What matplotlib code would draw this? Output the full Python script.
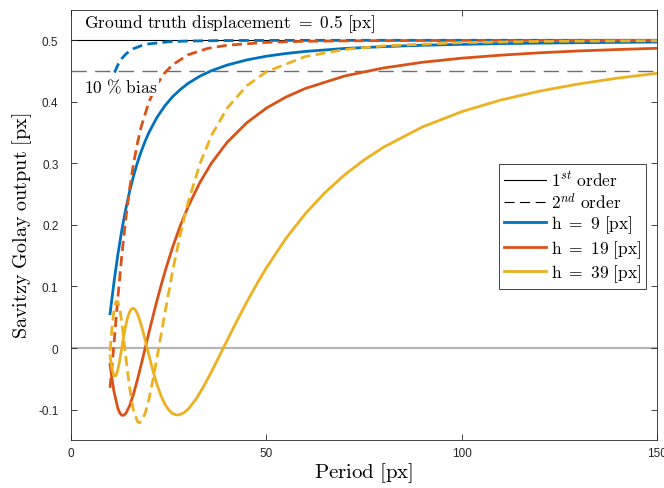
import matplotlib
matplotlib.use('Agg')
import matplotlib.pyplot as plt
from matplotlib.lines import Line2D

plt.rcParams['mathtext.fontset'] = 'cm'
plt.rcParams['font.family'] = ['Liberation Sans', 'DejaVu Sans']

# ---------------- data ----------------
# h = 9 [px], 1st order
period_h9_1 = [10, 11, 12, 13, 14, 15, 16, 17, 18, 19, 20, 22, 24, 26, 28, 30, 33, 36,
               40, 45, 50, 55, 60, 70, 80, 90, 100, 110, 120, 130, 140, 150]
out_h9_1 = [0.0556, 0.1066, 0.1518, 0.1911, 0.2250, 0.2542, 0.2793, 0.3011, 0.3199,
            0.3364, 0.3508, 0.3746, 0.3933, 0.4083, 0.4201, 0.4301, 0.4417, 0.4507,
            0.4598, 0.4681, 0.4741, 0.4785, 0.4819, 0.4867, 0.4897, 0.4919, 0.4934,
            0.4946, 0.4954, 0.4961, 0.4966, 0.4971]

# h = 19 [px], 1st order
period_h19_1 = [10, 10.5, 11, 12, 12.5, 13, 13.5, 14, 15, 16, 17, 18, 19, 20, 21, 22, 23,
                24, 26, 28, 30, 33, 36, 40, 45, 50, 55, 60, 70, 80, 90, 100, 110, 120,
                130, 140, 150]
out_h19_1 = [-0.0263, -0.0503, -0.0706, -0.0982, -0.1056, -0.1092, -0.1093, -0.1066,
             -0.0941, -0.0749, -0.0517, -0.0263, 0.0, 0.0263, 0.0520, 0.0768, 0.1004,
             0.1228, 0.1634, 0.1990, 0.2300, 0.2690, 0.3008, 0.3344, 0.3660, 0.3897,
             0.4077, 0.4217, 0.4419, 0.4550, 0.4643, 0.4709, 0.4758, 0.4797, 0.4827,
             0.4850, 0.4870]

# h = 39 [px], 1st order
period_h39_1 = [10, 10.5, 11, 11.5, 12, 12.5, 13, 13.5, 14, 14.5, 15, 15.5, 16, 16.5, 17,
                17.5, 18, 18.5, 19, 20, 21, 22, 23, 24, 25, 26, 27, 28, 29, 30, 32, 34,
                36, 38, 40, 42, 45, 48, 50, 55, 60, 65, 70, 75, 80, 90, 100, 110, 120,
                130, 140, 150]
out_h39_1 = [-0.0128, -0.0340, -0.0450, -0.0448, -0.0350, -0.0190, 0.0, 0.0190, 0.0359,
             0.0493, 0.0587, 0.0636, 0.0644, 0.0616, 0.0557, 0.0472, 0.0369, 0.0253,
             0.0128, -0.0128, -0.0373, -0.0590, -0.0769, -0.0908, -0.1005, -0.1064,
             -0.1087, -0.1080, -0.1048, -0.0993, -0.0830, -0.0619, -0.0381, -0.0128,
             0.0128, 0.0382, 0.0748, 0.1089, 0.1301, 0.1779, 0.2183, 0.2524, 0.2812,
             0.3055, 0.3263, 0.3593, 0.3840, 0.4029, 0.4175, 0.4291, 0.4386, 0.4463]

# h = 9 [px], 2nd order
period_h9_2 = [10, 11, 12, 13, 14, 15, 16, 18, 20, 25, 30, 40, 50, 60, 80, 100, 150]
out_h9_2 = [0.4238, 0.4455, 0.4600, 0.4702, 0.4773, 0.4825, 0.4863, 0.4912, 0.4942,
            0.4976, 0.4988, 0.4996, 0.4998, 0.4999, 0.5000, 0.5000, 0.5000]

# h = 19 [px], 2nd order
period_h19_2 = [10, 10.5, 11, 12, 13, 14, 15, 16, 17, 18, 20, 22, 24, 26, 30, 35, 40, 50,
                60, 80, 100, 150]
out_h19_2 = [-0.0647, -0.0301, 0.0070, 0.0814, 0.1498, 0.2088, 0.2584, 0.2993, 0.3327,
             0.3601, 0.4007, 0.4282, 0.4470, 0.4602, 0.4765, 0.4868, 0.4920, 0.4966,
             0.4984, 0.4995, 0.4998, 0.5000]

# h = 39 [px], 2nd order
period_h39_2 = [10, 10.5, 11, 11.5, 12, 12.5, 13, 13.5, 14, 15, 16, 17, 17.5, 18, 19, 20,
                21, 22, 23, 24, 26, 28, 30, 33, 36, 40, 45, 50, 60, 70, 80, 100, 120, 150]
out_h39_2 = [-0.0047, 0.0325, 0.0610, 0.0755, 0.0755, 0.0631, 0.0419, 0.0156, -0.0126,
             -0.0646, -0.1014, -0.1193, -0.1215, -0.1196, -0.1058, -0.0818, -0.0511,
             -0.0166, 0.0195, 0.0556, 0.1244, 0.1853, 0.2372, 0.2993, 0.3459, 0.3900,
             0.4261, 0.4488, 0.4736, 0.4850, 0.4910, 0.4962, 0.4982, 0.4993]

ground_truth = 0.5
bias_level = 0.45

x_ticks = [0, 50, 100, 150]
x_tick_labels = ['0', '50', '100', '150']
y_ticks = [-0.1, 0, 0.1, 0.2, 0.3, 0.4, 0.5]
y_tick_labels = ['-0.1', '0', '0.1', '0.2', '0.3', '0.4', '0.5']

# ---------------- figure ----------------
blue = '#0072BD'
red = '#D95319'
yellow = '#EDB120'
axc = '#262626'

fig = plt.figure(figsize=(6.64, 4.89), dpi=100)
ax = fig.add_axes([0.1069, 0.0975, 0.8825, 0.881])

ax.axhline(0, color='#b5b5b5', lw=1.6, zorder=1)
ax.axhline(ground_truth, color='k', lw=0.8, zorder=1)
ax.axhline(bias_level, color='#6e6e6e', lw=1.0, dashes=(11, 6), zorder=1)

lw = 2.0
dash = (3.6, 1.9)
ax.plot(period_h9_1, out_h9_1, color=blue, lw=lw, zorder=3)
ax.plot(period_h9_2, out_h9_2, color=blue, lw=lw, dashes=dash, zorder=3)
ax.plot(period_h19_1, out_h19_1, color=red, lw=lw, zorder=3)
ax.plot(period_h19_2, out_h19_2, color=red, lw=lw, dashes=dash, zorder=3)
ax.plot(period_h39_1, out_h39_1, color=yellow, lw=lw, zorder=3)
ax.plot(period_h39_2, out_h39_2, color=yellow, lw=lw, dashes=dash, zorder=3)

ax.text(3.3, 0.5275, r'$\mathrm{Ground\ truth\ displacement\ =\ 0.5\ [px]}$',
        fontsize=12.5, ha='left', va='center', zorder=6,
        bbox=dict(facecolor='white', edgecolor='none', pad=1.0))
ax.text(3.3, 0.426, r'$\mathrm{10\ \%\ bias}$',
        fontsize=12.5, ha='left', va='center', zorder=6,
        bbox=dict(facecolor='white', edgecolor='none', pad=1.0))

ax.set_xlim(0, 150)
ax.set_ylim(-0.15, 0.55)
ax.set_xticks(x_ticks)
ax.set_xticklabels(x_tick_labels)
ax.set_yticks(y_ticks)
ax.set_yticklabels(y_tick_labels)
ax.tick_params(direction='in', top=True, right=True, length=4, width=0.6,
               colors=axc, labelsize=8.5)
ax.tick_params(axis='y', pad=9)
ax.tick_params(axis='x', pad=5)
for s in ax.spines.values():
    s.set_linewidth(0.6)
    s.set_color(axc)

ax.set_xlabel(r'$\mathrm{Period\ [px]}$', fontsize=15, labelpad=1)
ax.set_ylabel(r'$\mathrm{Savitzy\ Golay\ output\ [px]}$', fontsize=14.5, labelpad=3)

handles = [
    Line2D([], [], color='k', lw=0.8, label=r'$1^{st}\ \mathrm{order}$'),
    Line2D([], [], color='k', lw=0.8, dashes=(9, 5), label=r'$2^{nd}\ \mathrm{order}$'),
    Line2D([], [], color=blue, lw=lw, label=r'$\mathrm{h\ =\ 9\ [px]}$'),
    Line2D([], [], color=red, lw=lw, label=r'$\mathrm{h\ =\ 19\ [px]}$'),
    Line2D([], [], color=yellow, lw=lw, label=r'$\mathrm{h\ =\ 39\ [px]}$'),
]
leg = ax.legend(handles=handles, loc='upper left', bbox_to_anchor=(0.730, 0.641),
                fontsize=12.5, frameon=True, fancybox=False, edgecolor=axc,
                framealpha=1, handlelength=2.4, handletextpad=0.3,
                labelspacing=0.15, borderpad=0.3, borderaxespad=0)
leg.get_frame().set_linewidth(0.6)
leg.set_zorder(7)

fig.savefig('out.png', dpi=100)
